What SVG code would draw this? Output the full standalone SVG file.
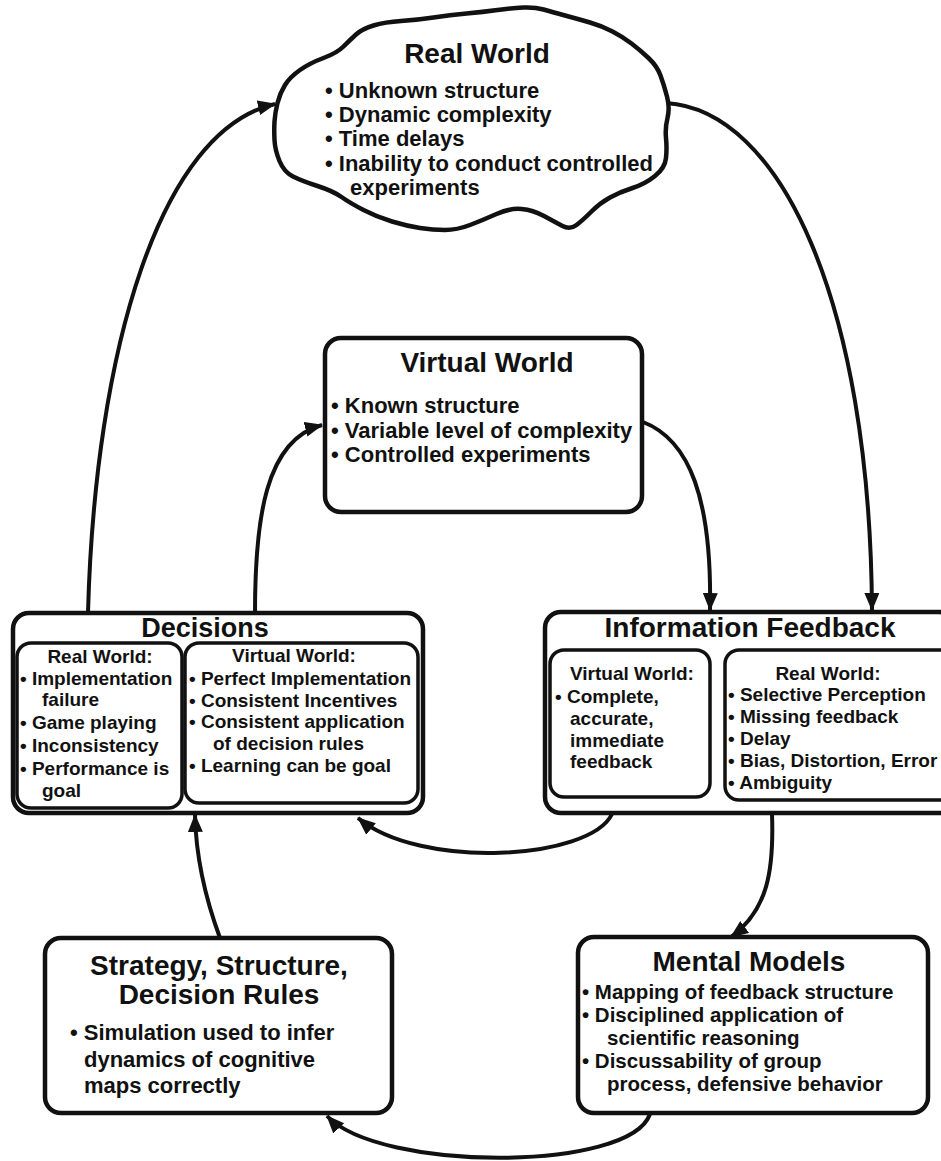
<svg xmlns="http://www.w3.org/2000/svg" width="941" height="1161" viewBox="0 0 941 1161">
<defs>
<marker id="ah" markerUnits="userSpaceOnUse" markerWidth="20" markerHeight="16" refX="17" refY="7.5" orient="auto">
<path d="M0,0 L18,7.5 L0,15 Z" fill="#111"/>
</marker>
<style>
text{font-family:"Liberation Sans",Arial,Helvetica,sans-serif;font-weight:bold;fill:#111}
.t28{font-size:28px;text-anchor:middle}
.t27{font-size:27px;text-anchor:middle}
.b21{font-size:22px}
.b20{font-size:20.5px}
.b19{font-size:19px}
.h19{font-size:19px;text-anchor:middle}
.box{fill:#fff;stroke:#111;stroke-width:4.5}
.inner{fill:#fff;stroke:#111;stroke-width:3.5}
.conn{fill:none;stroke:#111;stroke-width:4;marker-end:url(#ah)}
</style>
</defs>
<rect width="941" height="1161" fill="#fff"/>

<g id="connectors">
<path class="conn" d="M88,613 C95,350 160,130 275,104"/>
<path class="conn" d="M666,103 C780,110 870,300 872,610"/>
<path class="conn" d="M255,613 C255,520 265,440 322,425"/>
<path class="conn" d="M643,422 C690,440 712,500 710,610"/>
<path class="conn" d="M612,814 C590,860 420,870 358,818"/>
<path class="conn" d="M772,814 C774,870 768,910 731,937"/>
<path class="conn" d="M650,1114 C630,1172 380,1172 327,1116"/>
<path class="conn" d="M220,938 C206,900 196,860 195,815"/>
</g>

<g id="real-world">
<path fill="#fff" stroke="#111" stroke-width="4.5" stroke-linejoin="round" d="M274.5,121.5 Q275,113 277.5,103 Q280,93 285,85 Q290,77 300,70 Q310,63 323.5,58 Q337,53 343.5,46.5 Q350,40 356,34.5 Q362,29 373.5,25.5 Q385,22 401,21 Q417,20 433.5,17.5 Q450,15 466.5,13.5 Q483,12 497.5,10 Q512,8 523.5,7.5 Q535,7 543.5,9.5 Q552,12 565,15.5 Q578,19 590,22.5 Q602,26 612.5,31.5 Q623,37 631.5,43.5 Q640,50 648.5,58 Q657,66 660.5,75.5 Q664,85 667,96.5 Q670,108 667.5,118 Q665,128 666,138 Q667,148 666,158 Q665,168 655,176 Q645,184 632.5,188 Q620,192 610,197.5 Q600,203 591.5,211.5 Q583,220 576.5,225 Q570,230 562.5,226 Q555,222 544,216 Q533,210 521.5,209 Q510,208 496.5,214 Q483,220 470,225 Q457,230 445,230 Q433,230 420,228 Q407,226 392,221.5 Q377,217 363.5,210 Q350,203 341.5,197 Q333,191 317.5,186 Q302,181 293,176.5 Q284,172 279.5,161 Q275,150 274.5,140 Q274,130 274.5,121.5 Z"/>
<text class="t28" x="477" y="63">Real World</text>
<text class="b21" x="325" y="98">• Unknown structure</text>
<text class="b21" x="325" y="122">• Dynamic complexity</text>
<text class="b21" x="325" y="146">• Time delays</text>
<text class="b21" x="325" y="171">• Inability to conduct controlled</text>
<text class="b21" x="350" y="195">experiments</text>
</g>

<g id="virtual-world">
<rect class="box" x="325" y="338" width="317" height="174" rx="16"/>
<text class="t28" x="487" y="372">Virtual World</text>
<text class="b21" x="331" y="413">• Known structure</text>
<text class="b21" x="331" y="438">• Variable level of complexity</text>
<text class="b21" x="331" y="462">• Controlled experiments</text>
</g>

<g id="decisions">
<rect class="box" x="13" y="613" width="410" height="200" rx="16"/>
<text class="t27" x="205" y="637">Decisions</text>
<rect class="inner" x="17" y="643" width="165" height="165" rx="14"/>
<rect class="inner" x="185" y="643" width="233" height="160" rx="14"/>
<text class="h19" x="100" y="663">Real World:</text>
<text class="b19" x="20" y="685">• Implementation</text>
<text class="b19" x="42" y="706">failure</text>
<text class="b19" x="20" y="729">• Game playing</text>
<text class="b19" x="20" y="752">• Inconsistency</text>
<text class="b19" x="20" y="775">• Performance is</text>
<text class="b19" x="42" y="797">goal</text>
<text class="h19" x="294" y="662">Virtual World:</text>
<text class="b19" x="189" y="685">• Perfect Implementation</text>
<text class="b19" x="189" y="707">• Consistent Incentives</text>
<text class="b19" x="189" y="728">• Consistent application</text>
<text class="b19" x="213" y="750">of decision rules</text>
<text class="b19" x="189" y="772">• Learning can be goal</text>
</g>

<g id="information-feedback">
<rect class="box" x="545" y="612" width="410" height="201" rx="16"/>
<text class="t28" x="750" y="637">Information Feedback</text>
<rect class="inner" x="550" y="650" width="160" height="147" rx="14"/>
<rect class="inner" x="725" y="650" width="230" height="150" rx="14"/>
<text class="b19" x="570" y="680">Virtual World:</text>
<text class="b19" x="555" y="703">• Complete,</text>
<text class="b19" x="570" y="725">accurate,</text>
<text class="b19" x="570" y="747">immediate</text>
<text class="b19" x="570" y="768">feedback</text>
<text class="h19" x="828" y="680">Real World:</text>
<text class="b19" x="728" y="701">• Selective Perception</text>
<text class="b19" x="728" y="723">• Missing feedback</text>
<text class="b19" x="728" y="745">• Delay</text>
<text class="b19" x="728" y="767">• Bias, Distortion, Error</text>
<text class="b19" x="728" y="789">• Ambiguity</text>
</g>

<g id="strategy">
<rect class="box" x="45" y="938" width="347" height="175" rx="16"/>
<text class="t28" x="219" y="975">Strategy, Structure,</text>
<text class="t28" x="219" y="1004">Decision Rules</text>
<text class="b21" x="70" y="1040">• Simulation used to infer</text>
<text class="b21" x="84" y="1067">dynamics of cognitive</text>
<text class="b21" x="84" y="1093">maps correctly</text>
</g>

<g id="mental-models">
<rect class="box" x="578" y="937" width="350" height="176" rx="16"/>
<text class="t28" x="749" y="971">Mental Models</text>
<text class="b20" x="582" y="999">• Mapping of feedback structure</text>
<text class="b20" x="582" y="1022">• Disciplined application of</text>
<text class="b20" x="607" y="1045">scientific reasoning</text>
<text class="b20" x="582" y="1068">• Discussability of group</text>
<text class="b20" x="607" y="1091">process, defensive behavior</text>
</g>
</svg>
